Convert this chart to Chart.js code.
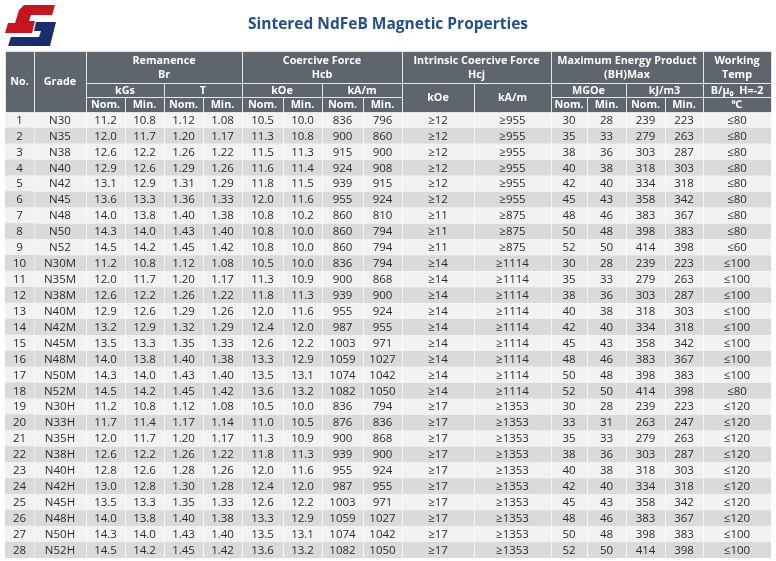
<!DOCTYPE html>
<html>
<head>
<meta charset="utf-8">
<script src="https://cdn.jsdelivr.net/npm/chart.js@4/dist/chart.umd.min.js"></script>
<style>
  html, body { margin: 0; padding: 0; background: #fff; }
  #wrap { position: relative; width: 776px; height: 561px; }
</style>
</head>
<body>
<div id="wrap"><canvas id="props"></canvas></div>
<script>
// table values, one list per column
var rowNo = [1, 2, 3, 4, 5, 6, 7, 8, 9, 10, 11, 12, 13, 14, 15, 16, 17, 18, 19, 20, 21, 22, 23, 24, 25, 26, 27, 28];
var grades = ['N30', 'N35', 'N38', 'N40', 'N42', 'N45', 'N48', 'N50', 'N52',
  'N30M', 'N35M', 'N38M', 'N40M', 'N42M', 'N45M', 'N48M', 'N50M', 'N52M',
  'N30H', 'N33H', 'N35H', 'N38H', 'N40H', 'N42H', 'N45H', 'N48H', 'N50H', 'N52H'];
var brKgsNom = [11.2, 12.0, 12.6, 12.9, 13.1, 13.6, 14.0, 14.3, 14.5, 11.2, 12.0, 12.6, 12.9, 13.2, 13.5, 14.0, 14.3, 14.5, 11.2, 11.7, 12.0, 12.6, 12.8, 13.0, 13.5, 14.0, 14.3, 14.5];
var brKgsMin = [10.8, 11.7, 12.2, 12.6, 12.9, 13.3, 13.8, 14.0, 14.2, 10.8, 11.7, 12.2, 12.6, 12.9, 13.3, 13.8, 14.0, 14.2, 10.8, 11.4, 11.7, 12.2, 12.6, 12.8, 13.3, 13.8, 14.0, 14.2];
var brTNom = [1.12, 1.20, 1.26, 1.29, 1.31, 1.36, 1.40, 1.43, 1.45, 1.12, 1.20, 1.26, 1.29, 1.32, 1.35, 1.40, 1.43, 1.45, 1.12, 1.17, 1.20, 1.26, 1.28, 1.30, 1.35, 1.40, 1.43, 1.45];
var brTMin = [1.08, 1.17, 1.22, 1.26, 1.29, 1.33, 1.38, 1.40, 1.42, 1.08, 1.17, 1.22, 1.26, 1.29, 1.33, 1.38, 1.40, 1.42, 1.08, 1.14, 1.17, 1.22, 1.26, 1.28, 1.33, 1.38, 1.40, 1.42];
var hcbKoeNom = [10.5, 11.3, 11.5, 11.6, 11.8, 12.0, 10.8, 10.8, 10.8, 10.5, 11.3, 11.8, 12.0, 12.4, 12.6, 13.3, 13.5, 13.6, 10.5, 11.0, 11.3, 11.8, 12.0, 12.4, 12.6, 13.3, 13.5, 13.6];
var hcbKoeMin = [10.0, 10.8, 11.3, 11.4, 11.5, 11.6, 10.2, 10.0, 10.0, 10.0, 10.9, 11.3, 11.6, 12.0, 12.2, 12.9, 13.1, 13.2, 10.0, 10.5, 10.9, 11.3, 11.6, 12.0, 12.2, 12.9, 13.1, 13.2];
var hcbKamNom = [836, 900, 915, 924, 939, 955, 860, 860, 860, 836, 900, 939, 955, 987, 1003, 1059, 1074, 1082, 836, 876, 900, 939, 955, 987, 1003, 1059, 1074, 1082];
var hcbKamMin = [796, 860, 900, 908, 915, 924, 810, 794, 794, 794, 868, 900, 924, 955, 971, 1027, 1042, 1050, 794, 836, 868, 900, 924, 955, 971, 1027, 1042, 1050];
var hcjKoe = [12, 12, 12, 12, 12, 12, 11, 11, 11, 14, 14, 14, 14, 14, 14, 14, 14, 14, 17, 17, 17, 17, 17, 17, 17, 17, 17, 17];
var hcjKam = [955, 955, 955, 955, 955, 955, 875, 875, 875, 1114, 1114, 1114, 1114, 1114, 1114, 1114, 1114, 1114, 1353, 1353, 1353, 1353, 1353, 1353, 1353, 1353, 1353, 1353];
var bhMgoeNom = [30, 35, 38, 40, 42, 45, 48, 50, 52, 30, 35, 38, 40, 42, 45, 48, 50, 52, 30, 33, 35, 38, 40, 42, 45, 48, 50, 52];
var bhMgoeMin = [28, 33, 36, 38, 40, 43, 46, 48, 50, 28, 33, 36, 38, 40, 43, 46, 48, 50, 28, 31, 33, 36, 38, 40, 43, 46, 48, 50];
var bhKjNom = [239, 279, 303, 318, 334, 358, 383, 398, 414, 239, 279, 303, 318, 334, 358, 383, 398, 414, 239, 263, 279, 303, 318, 334, 358, 383, 398, 414];
var bhKjMin = [223, 263, 287, 303, 318, 342, 367, 383, 398, 223, 263, 287, 303, 318, 342, 367, 383, 398, 223, 247, 263, 287, 303, 318, 342, 367, 383, 398];
var workTemp = [80, 80, 80, 80, 80, 80, 80, 80, 60, 100, 100, 100, 100, 100, 100, 100, 100, 80, 120, 120, 120, 120, 120, 120, 120, 120, 100, 100];

// how each column is shown, and how wide it is
var columns = [
  { values: rowNo, dec: 0, pre: '', w: 29 },
  { values: grades, dec: null, pre: '', w: 52 },
  { values: brKgsNom, dec: 1, pre: '', w: 39 },
  { values: brKgsMin, dec: 1, pre: '', w: 39 },
  { values: brTNom, dec: 2, pre: '', w: 39 },
  { values: brTMin, dec: 2, pre: '', w: 39 },
  { values: hcbKoeNom, dec: 1, pre: '', w: 41 },
  { values: hcbKoeMin, dec: 1, pre: '', w: 39 },
  { values: hcbKamNom, dec: 0, pre: '', w: 41 },
  { values: hcbKamMin, dec: 0, pre: '', w: 39 },
  { values: hcjKoe, dec: 0, pre: '\u2265', w: 72 },
  { values: hcjKam, dec: 0, pre: '\u2265', w: 77 },
  { values: bhMgoeNom, dec: 0, pre: '', w: 36 },
  { values: bhMgoeMin, dec: 0, pre: '', w: 39 },
  { values: bhKjNom, dec: 0, pre: '', w: 39 },
  { values: bhKjMin, dec: 0, pre: '', w: 38 },
  { values: workTemp, dec: 0, pre: '\u2264', w: 68 }
];

var edges = [0];
columns.forEach(function (c) { edges.push(edges[edges.length - 1] + c.w); });
var totalW = edges[edges.length - 1];

// header cells: column span [c0, c1), header row span [r0, r1)
var headRows = [32, 14, 15];
var headCells = [
  { c0: 0, c1: 1, r0: 0, r1: 3, t: ['No.'] },
  { c0: 1, c1: 2, r0: 0, r1: 3, t: ['Grade'] },
  { c0: 2, c1: 6, r0: 0, r1: 1, t: ['Remanence', 'Br'] },
  { c0: 2, c1: 4, r0: 1, r1: 2, t: ['kGs'] },
  { c0: 4, c1: 6, r0: 1, r1: 2, t: ['T'] },
  { c0: 6, c1: 10, r0: 0, r1: 1, t: ['Coercive Force', 'Hcb'] },
  { c0: 6, c1: 8, r0: 1, r1: 2, t: ['kOe'] },
  { c0: 8, c1: 10, r0: 1, r1: 2, t: ['kA/m'] },
  { c0: 10, c1: 12, r0: 0, r1: 1, t: ['Intrinsic Coercive Force', 'Hcj'] },
  { c0: 10, c1: 11, r0: 1, r1: 3, t: ['kOe'] },
  { c0: 11, c1: 12, r0: 1, r1: 3, t: ['kA/m'] },
  { c0: 12, c1: 16, r0: 0, r1: 1, t: ['Maximum Energy Product', '(BH)Max'] },
  { c0: 12, c1: 14, r0: 1, r1: 2, t: ['MGOe'] },
  { c0: 14, c1: 16, r0: 1, r1: 2, t: ['kJ/m3'] },
  { c0: 16, c1: 17, r0: 0, r1: 1, t: ['Working', 'Temp'] },
  { c0: 16, c1: 17, r0: 1, r1: 2, t: ['B/\u03bc\u2080  H=-2'] },
  { c0: 16, c1: 17, r0: 2, r1: 3, t: ['\u2103'] }
];
[2, 3, 4, 5, 6, 7, 8, 9, 12, 13, 14, 15].forEach(function (c, i) {
  headCells.push({ c0: c, c1: c + 1, r0: 2, r1: 3, t: [i % 2 ? 'Min.' : 'Nom.'] });
});

var FONT = '"Open Sans", "Noto Sans", sans-serif';
var headBg = '#5e656d';
var rowLight = '#f2f2f2';
var rowDark = '#dadada';

function cellText(col, i) {
  var v = col.values[i];
  if (col.dec === null) return v;
  return col.pre + v.toFixed(col.dec);
}

var tablePlugin = {
  id: 'tablePlugin',
  afterDatasetsDraw: function (chart) {
    var ctx = chart.ctx;
    ctx.save();
    ctx.fillStyle = '#2b2b2b';
    ctx.font = '11.5px ' + FONT;
    ctx.textAlign = 'center';
    ctx.textBaseline = 'middle';
    chart.data.datasets.forEach(function (ds, c) {
      chart.getDatasetMeta(c).data.forEach(function (bar, i) {
        var p = bar.getProps(['x', 'y', 'base'], true);
        ctx.fillText(cellText(columns[c], i), (p.x + p.base) / 2, p.y + 0.5);
      });
    });
    ctx.restore();
  },
  afterDraw: function (chart) {
    var ctx = chart.ctx;
    var xs = chart.scales.x;
    var area = chart.chartArea;
    var ys = [area.top];
    for (var r = headRows.length - 1; r >= 0; r--) ys.unshift(ys[0] - headRows[r]);
    ctx.save();
    // header block
    ctx.fillStyle = headBg;
    ctx.fillRect(xs.getPixelForValue(0), ys[0], xs.getPixelForValue(totalW) - xs.getPixelForValue(0), ys[3] - ys[0]);
    ctx.strokeStyle = '#e4e6e8';
    ctx.lineWidth = 1;
    ctx.fillStyle = '#ffffff';
    ctx.font = 'bold 10.8px ' + FONT;
    ctx.textAlign = 'center';
    ctx.textBaseline = 'middle';
    headCells.forEach(function (h) {
      var x0 = xs.getPixelForValue(edges[h.c0]);
      var x1 = xs.getPixelForValue(edges[h.c1]);
      var y0 = ys[h.r0], y1 = ys[h.r1];
      ctx.strokeRect(Math.round(x0) + 0.5, Math.round(y0) + 0.5, x1 - x0, y1 - y0);
      var lh = 14;
      var top = (y0 + y1) / 2 - (h.t.length - 1) * lh / 2;
      h.t.forEach(function (s, k) {
        ctx.fillText(s, (x0 + x1) / 2, top + k * lh + 0.5);
      });
    });

    // title
    ctx.fillStyle = '#22508c';
    ctx.font = 'bold 15.5px ' + FONT;
    ctx.fillText('Sintered NdFeB Magnetic Properties', 388, 25);

    // logo
    function poly(color, pts) {
      ctx.fillStyle = color;
      ctx.beginPath();
      ctx.moveTo(pts[0], pts[1]);
      for (var k = 2; k < pts.length; k += 2) ctx.lineTo(pts[k], pts[k + 1]);
      ctx.closePath();
      ctx.fill();
    }
    poly('#c8141e', [24, 5, 55, 5, 52, 15, 31, 15, 29, 21, 35, 21, 32, 33, 5, 33, 8, 23, 15, 23, 19, 10]);
    poly('#1c2d6e', [36, 22, 56, 22, 50, 46, 8, 46, 11, 37, 39, 37, 41, 31, 34, 31]);
    ctx.restore();
  }
};

window.addEventListener('load', function () {
  var ctx = document.getElementById('props').getContext('2d');
  var chart = new Chart(ctx, {
    type: 'bar',
    data: {
      labels: grades,
      datasets: columns.map(function (col, c) {
        return {
          label: 'col' + c,
          data: grades.map(function () { return [edges[c], edges[c + 1]]; }),
          backgroundColor: function (context) { return context.dataIndex % 2 ? rowDark : rowLight; },
          borderColor: '#ffffff',
          borderWidth: { left: c ? 1 : 0, right: 0, top: 0, bottom: 0 },
          borderSkipped: false,
          grouped: false,
          barPercentage: 1,
          categoryPercentage: 1
        };
      })
    },
    options: {
      indexAxis: 'y',
      responsive: true,
      maintainAspectRatio: false,
      animation: false,
      events: [],
      layout: { padding: { top: 112, left: 5, right: 5, bottom: 3 } },
      scales: {
        x: { type: 'linear', min: 0, max: totalW, display: false },
        y: { type: 'category', display: false }
      },
      plugins: {
        legend: { display: false },
        tooltip: { enabled: false },
        title: { display: false }
      }
    },
    plugins: [tablePlugin]
  });
});
</script>
</body>
</html>
